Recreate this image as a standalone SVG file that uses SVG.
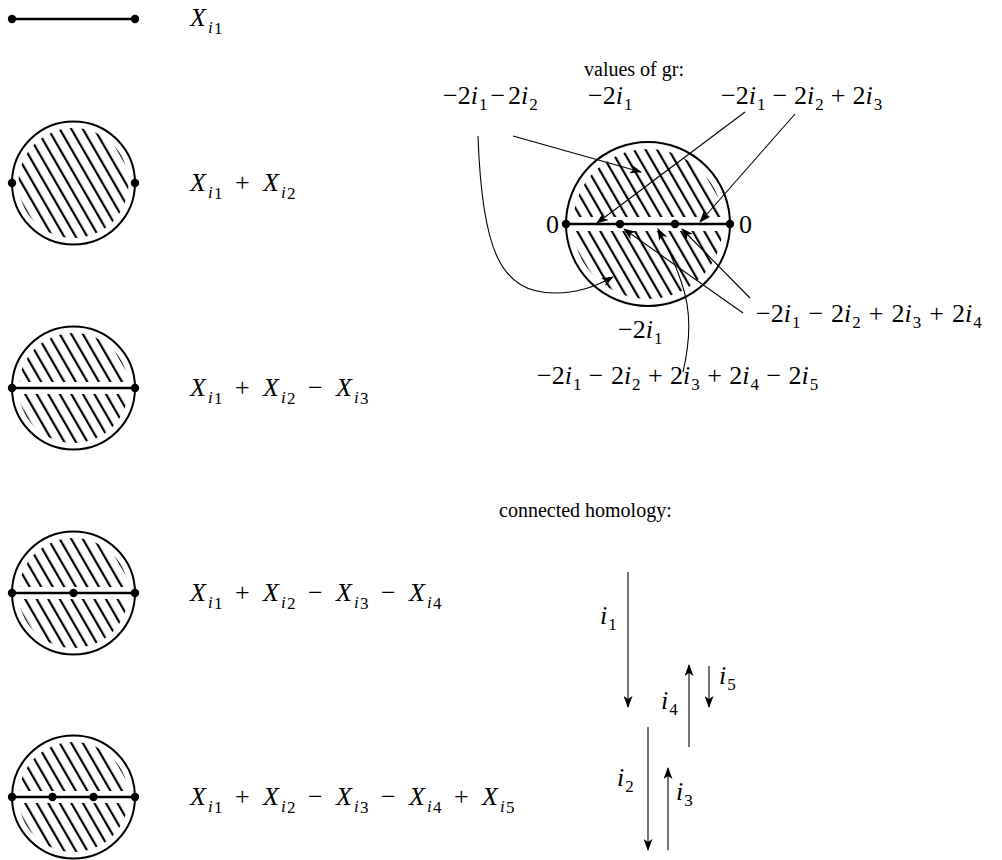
<svg xmlns="http://www.w3.org/2000/svg" width="1002" height="860" viewBox="0 0 1002 860">
<style>
.m{font-family:"Liberation Serif","Times New Roman",serif;font-size:26px;fill:#000}
.t{font-family:"Liberation Serif","Times New Roman",serif;font-size:20px;fill:#000}
.i{font-style:italic}
.s{font-size:17px}
.rim{fill:#fff;stroke:#000;stroke-width:2}
.bar{stroke:#000;stroke-width:2.5}
.dot{fill:#000}
.con{fill:none;stroke:#000;stroke-width:1.1}
</style>
<defs>
<pattern id="hatch" patternUnits="userSpaceOnUse" width="10" height="10" patternTransform="rotate(-30)"><rect x="4" y="-1" width="2.2" height="12" fill="#000"/></pattern>
<clipPath id="cs"><circle cx="0" cy="0" r="55"/></clipPath>
<clipPath id="cb"><circle cx="0" cy="0" r="75"/></clipPath>
<marker id="ah" viewBox="0 0 12 9" refX="11" refY="4.5" markerWidth="12" markerHeight="9" markerUnits="userSpaceOnUse" orient="auto"><path d="M0,0 L12,4.5 L0,9 L3,4.5 z" fill="#000"/></marker>
</defs>

<!-- left column -->
<g id="seg1">
<line class="bar" x1="12" y1="19" x2="135" y2="19"/>
<circle class="dot" cx="12" cy="19" r="4.2"/><circle class="dot" cx="135" cy="19" r="4.2"/>
</g>
<g id="label1"><text class="m"><tspan class="i" x="190" y="26">X</tspan><tspan class="i s" x="208" y="33">i</tspan><tspan class="s" x="214" y="34">1</tspan></text></g>

<g id="disk2" transform="translate(73.5,183)">
<circle class="rim" r="61.5"/>
<g clip-path="url(#cs)"><rect x="-60" y="-60" width="120" height="120" fill="url(#hatch)"/></g>
<circle class="dot" cx="-61.5" r="4.2"/><circle class="dot" cx="61.5" r="4.2"/>
</g>
<g id="label2"><text class="m"><tspan class="i" x="190" y="191">X</tspan><tspan class="i s" x="208" y="198">i</tspan><tspan class="s" x="214" y="199">1</tspan><tspan x="235" y="191">+</tspan><tspan class="i" x="263" y="191">X</tspan><tspan class="i s" x="281" y="198">i</tspan><tspan class="s" x="287" y="199">2</tspan></text></g>

<g id="disk3" transform="translate(73.5,388)">
<circle class="rim" r="61.5"/>
<g clip-path="url(#cs)"><rect x="-60" y="-60" width="120" height="54" fill="url(#hatch)"/><rect x="-60" y="6" width="120" height="54" fill="url(#hatch)"/></g>
<line class="bar" x1="-61.5" y1="0" x2="61.5" y2="0"/>
<circle class="dot" cx="-61.5" r="4.2"/><circle class="dot" cx="61.5" r="4.2"/>
</g>
<g id="label3"><text class="m"><tspan class="i" x="190" y="396">X</tspan><tspan class="i s" x="208" y="403">i</tspan><tspan class="s" x="214" y="404">1</tspan><tspan x="235" y="396">+</tspan><tspan class="i" x="263" y="396">X</tspan><tspan class="i s" x="281" y="403">i</tspan><tspan class="s" x="287" y="404">2</tspan><tspan x="308" y="396">−</tspan><tspan class="i" x="336" y="396">X</tspan><tspan class="i s" x="354" y="403">i</tspan><tspan class="s" x="360" y="404">3</tspan></text></g>

<g id="disk4" transform="translate(73.5,593)">
<circle class="rim" r="61.5"/>
<g clip-path="url(#cs)"><rect x="-60" y="-60" width="120" height="54" fill="url(#hatch)"/><rect x="-60" y="6" width="120" height="54" fill="url(#hatch)"/></g>
<line class="bar" x1="-61.5" y1="0" x2="61.5" y2="0"/>
<circle class="dot" cx="-61.5" r="4.2"/><circle class="dot" cx="0" r="4.2"/><circle class="dot" cx="61.5" r="4.2"/>
</g>
<g id="label4"><text class="m"><tspan class="i" x="190" y="601">X</tspan><tspan class="i s" x="208" y="608">i</tspan><tspan class="s" x="214" y="609">1</tspan><tspan x="235" y="601">+</tspan><tspan class="i" x="263" y="601">X</tspan><tspan class="i s" x="281" y="608">i</tspan><tspan class="s" x="287" y="609">2</tspan><tspan x="308" y="601">−</tspan><tspan class="i" x="336" y="601">X</tspan><tspan class="i s" x="354" y="608">i</tspan><tspan class="s" x="360" y="609">3</tspan><tspan x="381" y="601">−</tspan><tspan class="i" x="409" y="601">X</tspan><tspan class="i s" x="427" y="608">i</tspan><tspan class="s" x="433" y="609">4</tspan></text></g>

<g id="disk5" transform="translate(73.5,797)">
<circle class="rim" r="61.5"/>
<g clip-path="url(#cs)"><rect x="-60" y="-60" width="120" height="54" fill="url(#hatch)"/><rect x="-60" y="6" width="120" height="54" fill="url(#hatch)"/></g>
<line class="bar" x1="-61.5" y1="0" x2="61.5" y2="0"/>
<circle class="dot" cx="-61.5" r="4.2"/><circle class="dot" cx="-21" r="4.2"/><circle class="dot" cx="20" r="4.2"/><circle class="dot" cx="61.5" r="4.2"/>
</g>
<g id="label5"><text class="m"><tspan class="i" x="190" y="805">X</tspan><tspan class="i s" x="208" y="812">i</tspan><tspan class="s" x="214" y="813">1</tspan><tspan x="235" y="805">+</tspan><tspan class="i" x="263" y="805">X</tspan><tspan class="i s" x="281" y="812">i</tspan><tspan class="s" x="287" y="813">2</tspan><tspan x="308" y="805">−</tspan><tspan class="i" x="336" y="805">X</tspan><tspan class="i s" x="354" y="812">i</tspan><tspan class="s" x="360" y="813">3</tspan><tspan x="381" y="805">−</tspan><tspan class="i" x="409" y="805">X</tspan><tspan class="i s" x="427" y="812">i</tspan><tspan class="s" x="433" y="813">4</tspan><tspan x="454" y="805">+</tspan><tspan class="i" x="482" y="805">X</tspan><tspan class="i s" x="500" y="812">i</tspan><tspan class="s" x="506" y="813">5</tspan></text></g>

<!-- right: values of gr -->
<g id="title-gr"><text class="t" x="634" y="76" text-anchor="middle">values of gr:</text></g>

<g id="bigdisk" transform="translate(648,224)">
<circle class="rim" r="82"/>
<g clip-path="url(#cb)"><rect x="-80" y="-80" width="160" height="73" fill="url(#hatch)"/><rect x="-80" y="7" width="160" height="73" fill="url(#hatch)"/></g>
<line class="bar" x1="-82" y1="0" x2="82" y2="0"/>
<circle class="dot" cx="-82" r="4.2"/><circle class="dot" cx="-28" r="4.2"/><circle class="dot" cx="27" r="4.2"/><circle class="dot" cx="82" r="4.2"/>
</g>

<g id="v-a"><text class="m" x="443" y="104">−2<tspan class="i">i</tspan><tspan class="s" dx="1" dy="6">1</tspan><tspan dx="3" dy="-6">−</tspan><tspan dx="3">2</tspan><tspan class="i">i</tspan><tspan class="s" dx="1" dy="6">2</tspan></text></g>
<g id="v-b"><text class="m" x="588" y="104">−2<tspan class="i">i</tspan><tspan class="s" dx="1" dy="6">1</tspan></text></g>
<g id="v-c"><text class="m" x="721" y="104">−2<tspan class="i">i</tspan><tspan class="s" dx="1" dy="6">1</tspan><tspan dx="7" dy="-6">−</tspan><tspan dx="7">2</tspan><tspan class="i">i</tspan><tspan class="s" dx="1" dy="6">2</tspan><tspan dx="7" dy="-6">+</tspan><tspan dx="7">2</tspan><tspan class="i">i</tspan><tspan class="s" dx="1" dy="6">3</tspan></text></g>
<g id="v-0l"><text class="m" x="546" y="233">0</text></g>
<g id="v-0r"><text class="m" x="739" y="233">0</text></g>
<g id="v-d"><text class="m" x="756" y="322">−2<tspan class="i">i</tspan><tspan class="s" dx="1" dy="6">1</tspan><tspan dx="8" dy="-6">−</tspan><tspan dx="8">2</tspan><tspan class="i">i</tspan><tspan class="s" dx="1" dy="6">2</tspan><tspan dx="8" dy="-6">+</tspan><tspan dx="8">2</tspan><tspan class="i">i</tspan><tspan class="s" dx="1" dy="6">3</tspan><tspan dx="8" dy="-6">+</tspan><tspan dx="8">2</tspan><tspan class="i">i</tspan><tspan class="s" dx="1" dy="6">4</tspan></text></g>
<g id="v-e"><text class="m" x="618" y="338">−2<tspan class="i">i</tspan><tspan class="s" dx="1" dy="6">1</tspan></text></g>
<g id="v-f"><text class="m" x="537" y="384">−2<tspan class="i">i</tspan><tspan class="s" dx="1" dy="6">1</tspan><tspan dx="7.4" dy="-6">−</tspan><tspan dx="7.4">2</tspan><tspan class="i">i</tspan><tspan class="s" dx="1" dy="6">2</tspan><tspan dx="7.4" dy="-6">+</tspan><tspan dx="7.4">2</tspan><tspan class="i">i</tspan><tspan class="s" dx="1" dy="6">3</tspan><tspan dx="7.4" dy="-6">+</tspan><tspan dx="7.4">2</tspan><tspan class="i">i</tspan><tspan class="s" dx="1" dy="6">4</tspan><tspan dx="7.4" dy="-6">−</tspan><tspan dx="7.4">2</tspan><tspan class="i">i</tspan><tspan class="s" dx="1" dy="6">5</tspan></text></g>

<!-- right: connected homology -->
<g id="title-ch"><text class="t" x="499" y="517">connected homology:</text></g>
<g id="h-1"><text class="m" x="600" y="624"><tspan class="i">i</tspan><tspan class="s" dx="1" dy="6">1</tspan></text></g>
<g id="h-4"><text class="m" x="661" y="709"><tspan class="i">i</tspan><tspan class="s" dx="1" dy="6">4</tspan></text></g>
<g id="h-5"><text class="m" x="719" y="684"><tspan class="i">i</tspan><tspan class="s" dx="1" dy="6">5</tspan></text></g>
<g id="h-2"><text class="m" x="617" y="786"><tspan class="i">i</tspan><tspan class="s" dx="1" dy="6">2</tspan></text></g>
<g id="h-3"><text class="m" x="676" y="800"><tspan class="i">i</tspan><tspan class="s" dx="1" dy="6">3</tspan></text></g>

<g id="connectors">
<path class="con" marker-end="url(#ah)" d="M513,136 L641,172"/>
<path class="con" marker-end="url(#ah)" d="M478,136 C482,250 500,293 555,293 C580,293 598,285 613,277"/>
<path class="con" marker-end="url(#ah)" d="M745,112 L597,223"/>
<path class="con" marker-end="url(#ah)" d="M795,114 L700,222"/>
<path class="con" marker-end="url(#ah)" d="M743,313 L624,229"/>
<path class="con" marker-end="url(#ah)" d="M750,298 L682,229"/>
<path class="con" marker-end="url(#ah)" d="M683,372 C695,320 690,290 658,229"/>
<path class="con" marker-end="url(#ah)" d="M628,572 L628,707"/>
<path class="con" marker-end="url(#ah)" d="M689,747 L689,665"/>
<path class="con" marker-end="url(#ah)" d="M709,666 L709,707"/>
<path class="con" marker-end="url(#ah)" d="M648,727 L648,850"/>
<path class="con" marker-end="url(#ah)" d="M668,850 L668,768"/>
</g>
</svg>
